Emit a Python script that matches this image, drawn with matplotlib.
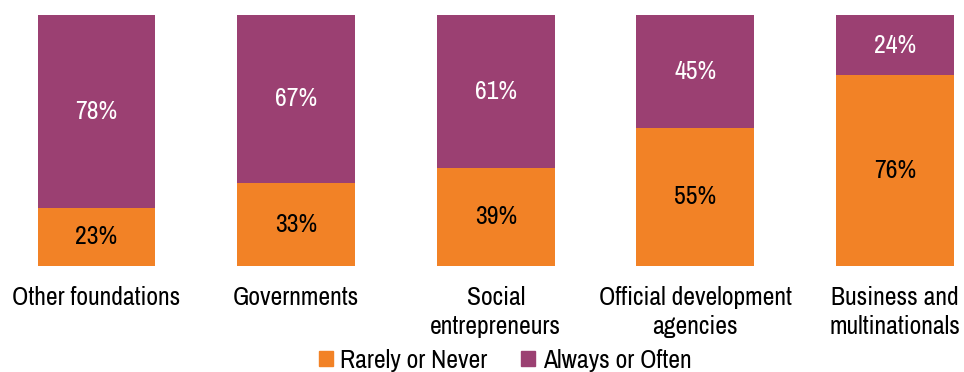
import matplotlib
matplotlib.use("Agg")
import matplotlib.pyplot as plt
from matplotlib.patches import Patch

plt.rcParams["font.family"] = ["Archivo Narrow", "Liberation Sans", "DejaVu Sans"]

categories = ["Other foundations", "Governments", "Social\nentrepreneurs",
              "Official development\nagencies", "Business and\nmultinationals"]
rarely_never = [23, 33, 39, 55, 76]
always_often = [78, 67, 61, 45, 24]

ORANGE = "#F28226"
PURPLE = "#9B4072"
FS = 18.5

fig = plt.figure(figsize=(9.64, 3.72), dpi=100)
unit = 199.6
ax = fig.add_axes([6.7 / 964, (372 - 265.5) / 372, 4.75 * unit / 964, 250.5 / 372])

x = list(range(len(categories)))
width = 0.59
ax.bar(x, rarely_never, width, color=ORANGE, label="Rarely or Never")
ax.bar(x, always_often, width, bottom=rarely_never, color=PURPLE, label="Always or Often")
ax.set_xlim(-0.45, 4.3)
ax.set_ylim(0, 100)

for xi, r, a in zip(x, rarely_never, always_often):
    ax.text(xi, r / 2, f"{r}%", ha="center", va="center", fontsize=FS, color="black")
    top = min(r + a, 100)
    ax.text(xi, (r + top) / 2, f"{a}%", ha="center", va="center", fontsize=FS, color="white")

for xi, cat in zip(x, categories):
    ax.text(xi, -8.0, cat, ha="center", va="top", fontsize=FS, linespacing=1.32)

for s in ax.spines.values():
    s.set_visible(False)
ax.set_xticks([])
ax.set_yticks([])

handles = [Patch(color=ORANGE, label="Rarely or Never"),
           Patch(color=PURPLE, label="Always or Often")]
fig.legend(handles=handles, loc="center", bbox_to_anchor=(505 / 964, 1 - 360 / 372),
           ncol=2, frameon=False, fontsize=FS, handlelength=0.55, handleheight=0.55,
           handletextpad=0.3, columnspacing=1.3, borderaxespad=0, borderpad=0)

fig.savefig("out.png", dpi=100)
